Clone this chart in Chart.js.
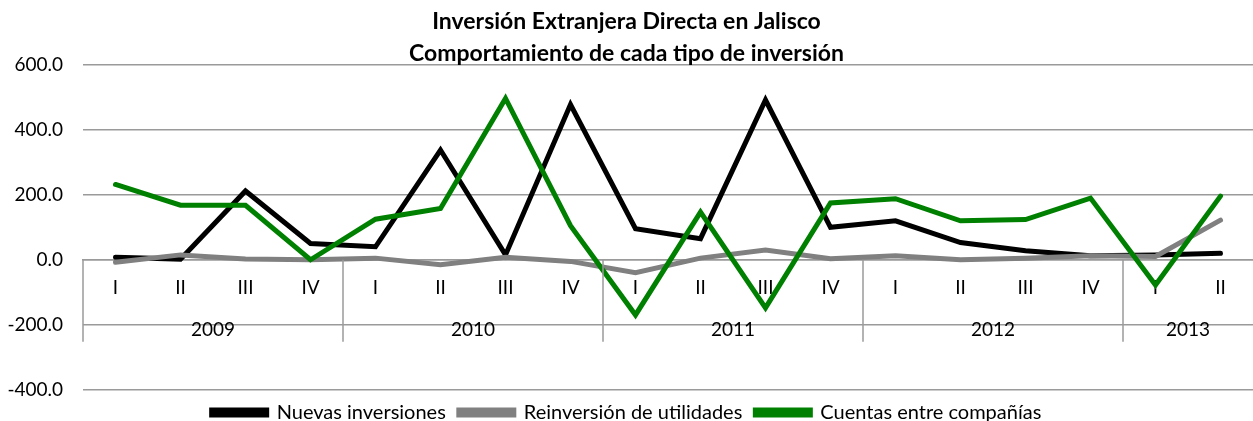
<!DOCTYPE html>
<html>
<head>
<meta charset="utf-8">
<script src="https://cdn.jsdelivr.net/npm/chart.js@4"></script>
<style>
  body { margin: 0; background: #fff; }
  #wrap { width: 1253px; height: 421px; }
</style>
</head>
<body>
<div id="wrap"><canvas id="ied-chart" width="1253" height="421"></canvas></div>
<script>
// --- Data (millones de dólares, por trimestre) ---
const quarters = ['I', 'II', 'III', 'IV', 'I', 'II', 'III', 'IV', 'I', 'II', 'III', 'IV', 'I', 'II', 'III', 'IV', 'I', 'II'];
const years = ['2009', '2010', '2011', '2012', '2013'];
const quartersPerYear = [4, 4, 4, 4, 2];

const nuevasInversiones = [8, 2, 212, 50, 40, 338, 15, 478, 96, 65, 492, 100, 120, 53, 28, 12, 15, 20];
const reinversionUtilidades = [-8, 15, 2, 0, 5, -15, 8, -5, -40, 5, 30, 3, 12, 0, 5, 12, 10, 122];
const cuentasEntreCompanias = [232, 168, 168, 0, 125, 158, 497, 105, -170, 147, -148, 175, 188, 120, 124, 190, -78, 196];

const FONT = 'Lato';

// Draws the year row and the group separators below the zero line
const yearAxisPlugin = {
    id: 'yearAxis',
    afterDraw(chart) {
        const { ctx } = chart;
        const xs = chart.scales.x;
        const ys = chart.scales.y;
        const zeroY = ys.getPixelForValue(0);
        const half = (xs.getPixelForValue(1) - xs.getPixelForValue(0)) / 2;

        ctx.save();
        ctx.strokeStyle = '#9a9a9a';
        ctx.lineWidth = 1.5;
        ctx.fillStyle = '#000';
        ctx.font = `19px ${FONT}`;
        ctx.textAlign = 'center';
        ctx.textBaseline = 'middle';

        let start = 0;
        years.forEach((yr, i) => {
            const left = xs.getPixelForValue(start) - half;
            const right = xs.getPixelForValue(start + quartersPerYear[i] - 1) + half;
            ctx.beginPath();
            ctx.moveTo(left, zeroY);
            ctx.lineTo(left, zeroY + 82);
            ctx.stroke();
            ctx.fillText(yr, (left + right) / 2, zeroY + 70);
            start += quartersPerYear[i];
        });
        ctx.restore();
    }
};

const ctx = document.getElementById('ied-chart').getContext('2d');
new Chart(ctx, {
    type: 'line',
    data: {
        labels: quarters,
        datasets: [
            { label: 'Nuevas inversiones', data: nuevasInversiones, borderColor: '#000000', backgroundColor: '#000000', order: 3 },
            { label: 'Reinversión de utilidades', data: reinversionUtilidades, borderColor: '#808080', backgroundColor: '#808080', order: 2 },
            { label: 'Cuentas entre compañías', data: cuentasEntreCompanias, borderColor: '#008000', backgroundColor: '#008000', order: 1 }
        ].map(ds => ({ ...ds, borderWidth: 5, pointRadius: 0, tension: 0, borderJoinStyle: 'miter', borderCapStyle: 'round', fill: false }))
    },
    options: {
        responsive: false,
        animation: false,
        devicePixelRatio: 1,
        layout: { padding: { left: 0, right: 0, top: 0, bottom: -14 } },
        scales: {
            x: {
                position: { y: 0 },
                offset: true,
                grid: { display: false, drawTicks: false },
                border: { display: true, color: '#9a9a9a', width: 1.5 },
                ticks: { color: '#000', font: { family: FONT, size: 19 }, padding: 17, maxRotation: 0, autoSkip: false }
            },
            y: {
                min: -400,
                max: 600,
                grid: { color: '#9a9a9a', lineWidth: 1.5, drawTicks: false },
                border: { display: false },
                ticks: { stepSize: 200, color: '#000', font: { family: FONT, size: 19 }, padding: 20, callback: v => v.toFixed(1) },
                afterFit(scale) { scale.width = 83; }
            }
        },
        plugins: {
            title: {
                display: true,
                text: ['Inversión Extranjera Directa en Jalisco', 'Comportamiento de cada tipo de inversión'],
                color: '#000',
                font: { family: FONT, size: 23, weight: 'bold', lineHeight: '32px' },
                padding: { top: 6, bottom: -5 }
            },
            legend: {
                position: 'bottom',
                labels: {
                    color: '#000',
                    font: { family: FONT, size: 20 },
                    boxWidth: 55,
                    boxHeight: 5,
                    padding: 13,
                    sort: (a, b) => a.datasetIndex - b.datasetIndex
                }
            },
            tooltip: { enabled: false }
        }
    },
    plugins: [yearAxisPlugin]
});
</script>
</body>
</html>
